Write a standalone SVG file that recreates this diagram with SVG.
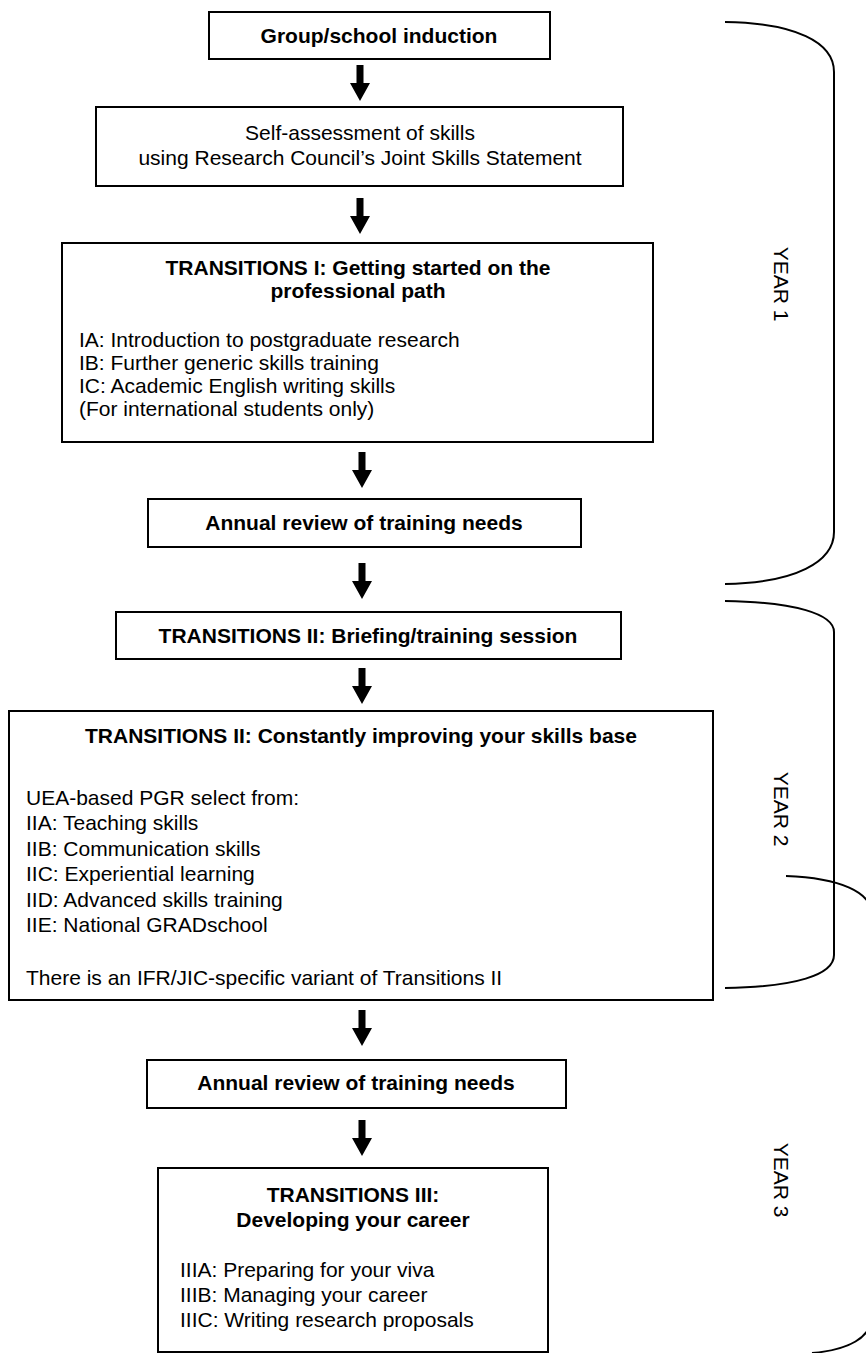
<svg xmlns="http://www.w3.org/2000/svg" width="866" height="1353" viewBox="0 0 866 1353">
<style>
.box{fill:#fff;stroke:#000;stroke-width:2}
.t{font-family:"Liberation Sans",Arial,sans-serif;font-size:21px;fill:#000}
.b{font-weight:bold}
.c{text-anchor:middle}
.br{fill:none;stroke:#000;stroke-width:2}
.arr{fill:#000}
</style>
<defs>
<path id="arrow" d="M-3.5,0 H3.5 V18 H10 L0,36 L-10,18 H-3.5 Z"/>
</defs>
<rect width="866" height="1353" fill="#fff"/>
<g id="connectors" class="arr">
<use href="#arrow" x="360" y="65"/>
<use href="#arrow" x="360" y="198"/>
<use href="#arrow" x="362" y="452"/>
<use href="#arrow" x="362" y="563"/>
<use href="#arrow" x="362" y="668"/>
<use href="#arrow" x="362" y="1010"/>
<use href="#arrow" x="362" y="1120"/>
</g>
<g id="n1">
<rect class="box" x="209" y="12" width="341" height="47"/>
<text class="t b c" x="379" y="43">Group/school induction</text>
</g>
<g id="n2">
<rect class="box" x="96" y="107" width="527" height="79"/>
<text class="t c" x="360" y="140">Self-assessment of skills</text>
<text class="t c" x="360" y="165">using Research Council’s Joint Skills Statement</text>
</g>
<g id="n3">
<rect class="box" x="62" y="243" width="591" height="199"/>
<text class="t b c" x="358" y="275">TRANSITIONS I: Getting started on the</text>
<text class="t b c" x="358" y="298">professional path</text>
<text class="t" x="79" y="347">IA: Introduction to postgraduate research</text>
<text class="t" x="79" y="370">IB: Further generic skills training</text>
<text class="t" x="79" y="393">IC: Academic English writing skills</text>
<text class="t" x="79" y="416">(For international students only)</text>
</g>
<g id="n4">
<rect class="box" x="148" y="499" width="433" height="48"/>
<text class="t b c" x="364" y="530">Annual review of training needs</text>
</g>
<g id="n5">
<rect class="box" x="116" y="612" width="505" height="47"/>
<text class="t b c" x="368" y="643">TRANSITIONS II: Briefing/training session</text>
</g>
<g id="n6">
<rect class="box" x="9" y="711" width="704" height="289"/>
<text class="t b c" x="361" y="743">TRANSITIONS II: Constantly improving your skills base</text>
<text class="t" x="26" y="805">UEA-based PGR select from:</text>
<text class="t" x="26" y="830">IIA: Teaching skills</text>
<text class="t" x="26" y="856">IIB: Communication skills</text>
<text class="t" x="26" y="881">IIC: Experiential learning</text>
<text class="t" x="26" y="907">IID: Advanced skills training</text>
<text class="t" x="26" y="932">IIE: National GRADschool</text>
<text class="t" x="26" y="985">There is an IFR/JIC-specific variant of Transitions II</text>
</g>
<g id="n7">
<rect class="box" x="147" y="1060" width="419" height="48"/>
<text class="t b c" x="356" y="1090">Annual review of training needs</text>
</g>
<g id="n8">
<rect class="box" x="158" y="1168" width="390" height="184"/>
<text class="t b c" x="353" y="1202">TRANSITIONS III:</text>
<text class="t b c" x="353" y="1227">Developing your career</text>
<text class="t" x="180" y="1277">IIIA: Preparing for your viva</text>
<text class="t" x="180" y="1302">IIIB: Managing your career</text>
<text class="t" x="180" y="1327">IIIC: Writing research proposals</text>
</g>
<g id="year1">
<path class="br" d="M725,22 C795,23 834,42 834,72 V532 C834,562 795,583 725,584"/>
<text class="t c" transform="translate(774,284) rotate(90)">YEAR 1</text>
</g>
<g id="year2">
<path class="br" d="M725,601 C795,602 834,614 834,632 V955 C834,975 795,987 725,988"/>
<text class="t c" transform="translate(774,809) rotate(90)">YEAR 2</text>
</g>
<g id="year3">
<path class="br" d="M786,876 C840,878 872,892 872,915 V1315 C872,1338 848,1350 812,1353"/>
<text class="t c" transform="translate(774,1180) rotate(90)">YEAR 3</text>
</g>
</svg>
